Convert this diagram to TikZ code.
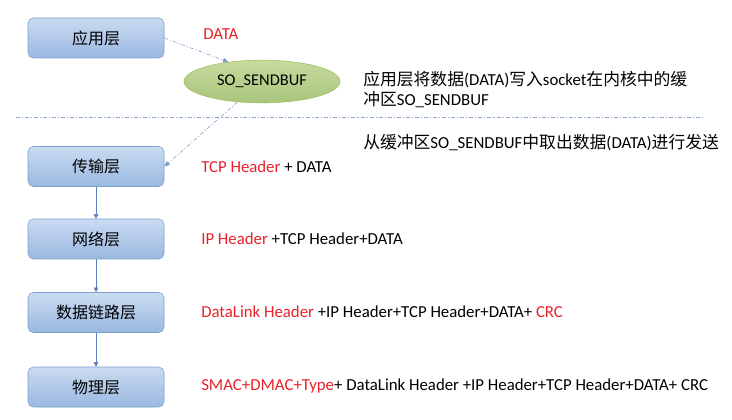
\documentclass[tikz,border=0pt]{standalone}
\usepackage{fontspec}
\usepackage{xcolor}
\setmainfont{Carlito}
\newfontfamily\cjk{Noto Sans CJK SC}
\usetikzlibrary{shapes,arrows,positioning,arrows.meta}
\definecolor{boxline}{HTML}{7C9FD0}
\definecolor{boxtop}{HTML}{CADBF1}
\definecolor{boxbot}{HTML}{9AB8E1}
\definecolor{bufline}{HTML}{9BBB59}
\definecolor{buftop}{HTML}{C6DA9E}
\definecolor{bufbot}{HTML}{A9C57C}
\definecolor{flow}{HTML}{5B7FB8}
\definecolor{hdrred}{HTML}{E8202A}
\newcommand{\hred}[1]{\textcolor{hdrred}{#1}}
\newcommand{\zh}[1]{{\cjk #1}}

\begin{document}
\begin{tikzpicture}[x=0.75pt,y=-0.75pt,
    layer/.style={draw=boxline,rounded corners=4pt,top color=boxtop,bottom color=boxbot,
      minimum width=102pt,minimum height=30pt,inner sep=0pt,font=\cjk\fontsize{12}{14}\selectfont},
    buf/.style={ellipse,draw=bufline,top color=buftop,bottom color=bufbot,
      minimum width=117pt,minimum height=32pt,inner sep=0pt,font=\fontsize{12.3}{14}\selectfont},
    txt/.style={anchor=west,inner sep=0pt,font=\fontsize{12.6}{15}\selectfont},
    down/.style={draw=flow,-{Triangle[length=3.5pt,width=3.5pt]}},
    dd/.style={draw=flow!80,dash pattern=on 3pt off 1.5pt on 0.8pt off 1.5pt,-{Triangle[length=4pt,width=3.5pt]}}]
\useasboundingbox (0,0) rectangle (732,420);

% layers
\node[layer] (app) at (96,38) {应用层};
\node[layer] (trans) at (96,166.5) {传输层};
\node[layer] (net) at (96,239) {网络层};
\node[layer] (link) at (96,312.5) {数据链路层};
\node[layer] (phy) at (96,387) {物理层};

\node[buf] (sndbuf) at (262,81.5) {SO\_SENDBUF};

% data on each layer
\node[txt] (d0) at (203,34) {\hred{DATA}};
\node[txt] (d1) at (201,166.5) {\hred{TCP Header} + DATA};
\node[txt] (d2) at (201,239) {\hred{IP Header} +TCP Header+DATA};
\node[txt] (d3) at (201,311.5) {\hred{DataLink Header} +IP Header+TCP Header+DATA+ \hred{CRC}};
\node[txt] (d4) at (201,386) {\hred{SMAC+DMAC+Type}+ DataLink Header +IP Header+TCP Header+DATA+ CRC};

% notes
\node[txt,align=left] (n1) at (363,90) {\zh{应用层将数据}(DATA)\zh{写入}socket\zh{在内核中的缓}\\\zh{冲区}SO\_SENDBUF};
\node[txt] (n2) at (363,143) {\zh{从缓冲区}SO\_SENDBUF\zh{中取出数据}(DATA)\zh{进行发送}};

% user / kernel
\coordinate (cutl) at (16,117);
\coordinate (cutr) at (704,117);
\draw[flow!70,dash pattern=on 3pt off 1.5pt on 0.8pt off 1.5pt] (cutl) -- (cutr);

\draw[dd] (app.east) -- (sndbuf.150);
\draw[dd] (sndbuf.220) -- (trans.east);

\draw[down] (trans) -- (net);
\draw[down] (net) -- (link);
\draw[down] (link) -- (phy);
\end{tikzpicture}
\end{document}
